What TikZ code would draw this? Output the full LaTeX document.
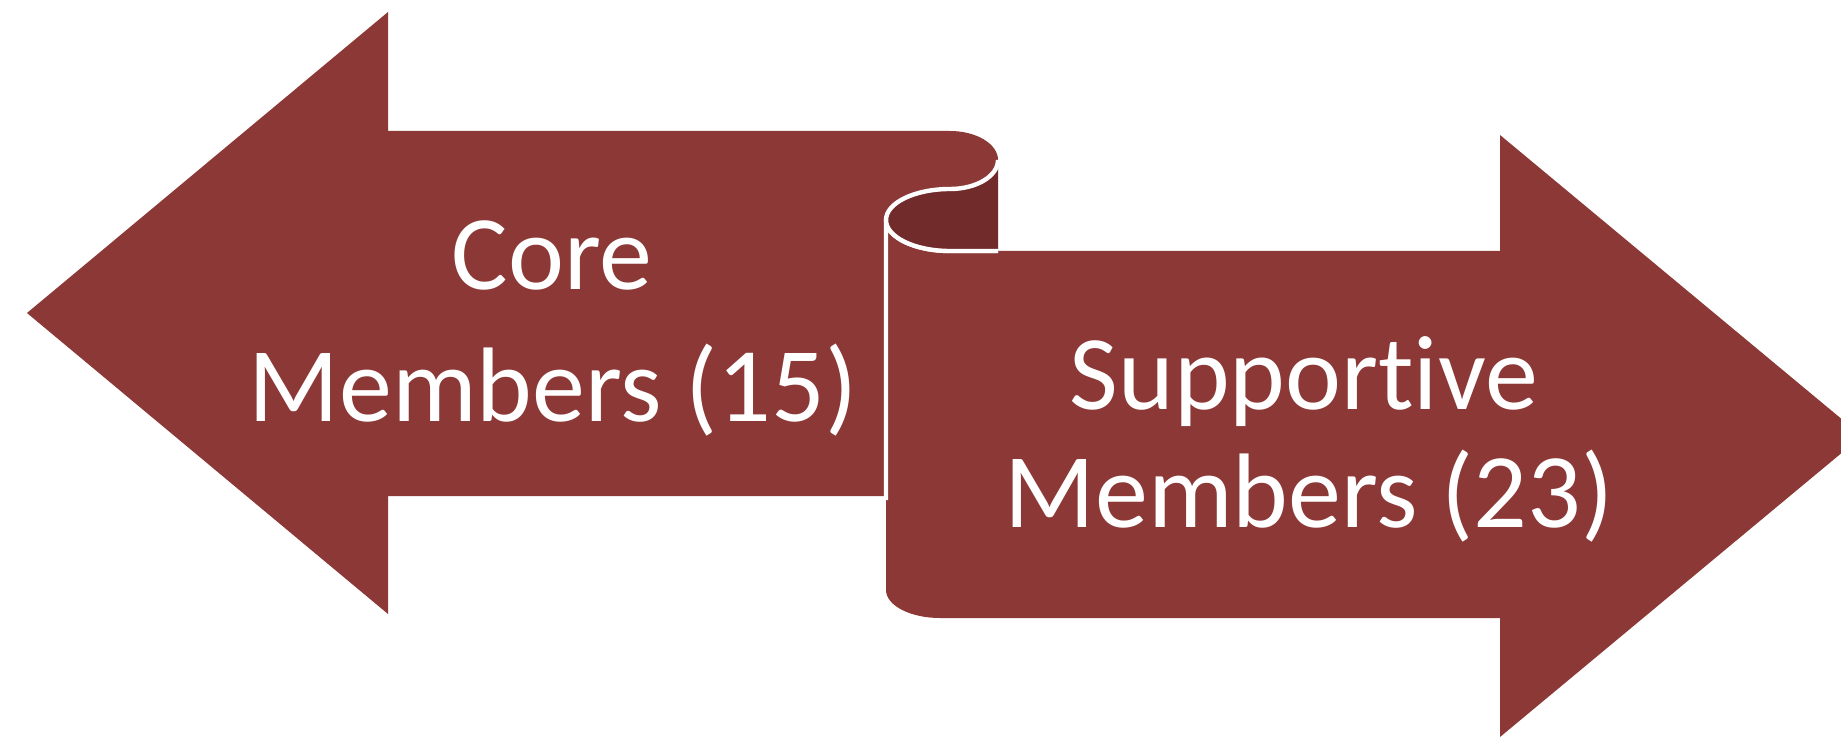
\documentclass[tikz,border=0pt]{standalone}
\usepackage{fontspec}
\setmainfont{Carlito}[Ligatures=NoCommon]
\definecolor{arrowred}{HTML}{8C3836}
\definecolor{folddark}{HTML}{722B2B}
\tikzset{
  bodyfill/.style={fill=arrowred},
  edgeline/.style={draw=white, line width=2.2pt, line join=round},
  label/.style={text=white, inner sep=0pt, anchor=base, font=\fontsize{53}{60}\selectfont}
}
\begin{document}
\begin{tikzpicture}[x=0.5pt,y=0.5pt]
\useasboundingbox (0,0) rectangle (1841,740);
\clip (0,0) rectangle (1841,740);
% left arrow with rounded upper scroll end
\path[bodyfill] (27,427) -- (388,728) -- (388,609) -- (950,609)
  arc[start angle=90, end angle=-90, x radius=24pt, y radius=14.5pt]
  arc[start angle=90, end angle=180, x radius=32pt, y radius=15.5pt]
  -- (886,244) -- (388,244) -- (388,126) -- cycle;
% right arrow
\path[bodyfill] (886,520)
  arc[start angle=180, end angle=270, x radius=32pt, y radius=15.5pt]
  -- (1500,489) -- (1500,605) -- (1862,304) -- (1500,3) -- (1500,122) -- (940,122)
  arc[start angle=270, end angle=180, x radius=27pt, y radius=14pt]
  -- cycle;
\draw[edgeline] (886,240) -- (886,520)
  arc[start angle=180, end angle=270, x radius=32pt, y radius=15.5pt]
  -- (998,489);
% dark fold
\path[fill=folddark] (998,580)
  arc[start angle=0, end angle=-90, x radius=24pt, y radius=14.5pt]
  arc[start angle=90, end angle=270, x radius=32pt, y radius=15.5pt]
  -- (998,489) -- cycle;
\draw[edgeline] (998,580)
  arc[start angle=0, end angle=-90, x radius=24pt, y radius=14.5pt]
  arc[start angle=90, end angle=270, x radius=32pt, y radius=15.5pt]
  -- (998,489);
% texts
\node[label] (core) at (552,450) {Core};
\node[label] (coremem) at (553,319) {Members (15)};
\node[label] (supp) at (1304,331) {Supportive};
\node[label] (suppmem) at (1309,213) {Members (23)};
\end{tikzpicture}
\end{document}
